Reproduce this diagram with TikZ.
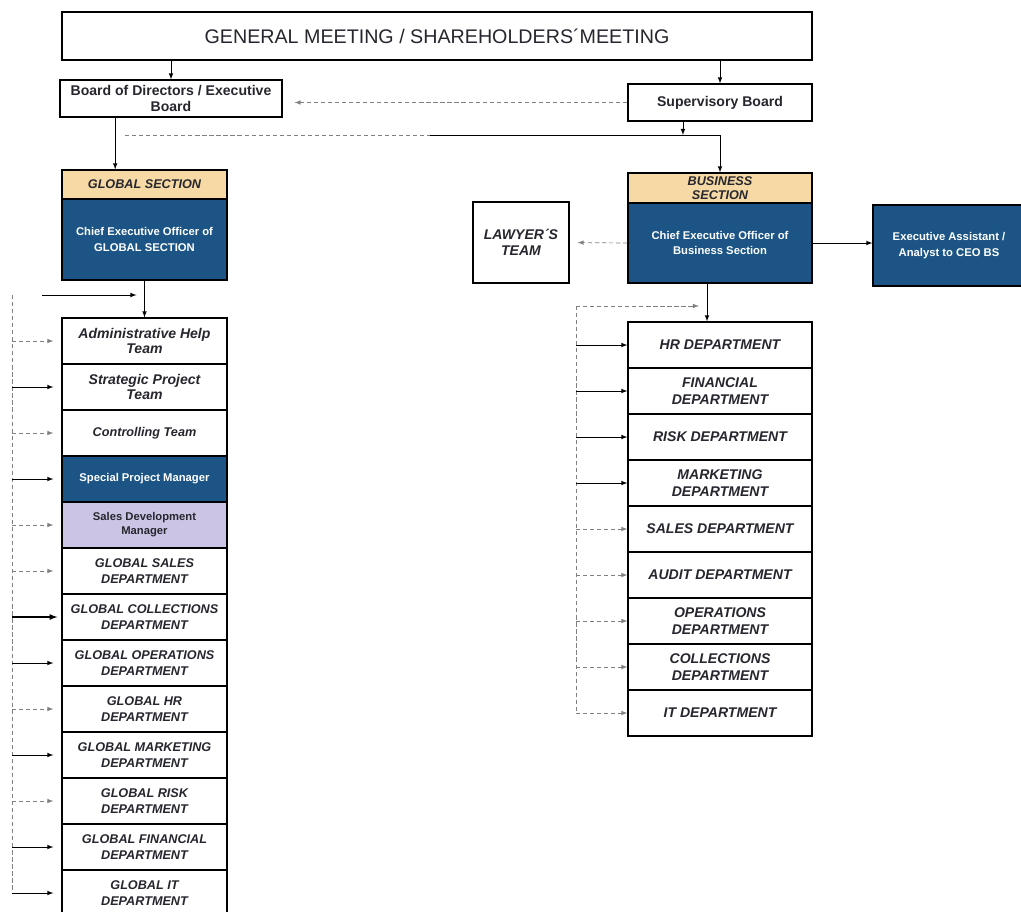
\documentclass[tikz,border=0pt]{standalone}
\usepackage{fontspec}
\setmainfont{Liberation Sans}
\usepackage{xcolor}
\usetikzlibrary{arrows,positioning,calc}

\definecolor{headtan}{HTML}{F6D9A4}
\definecolor{ceoblue}{HTML}{1C5585}
\definecolor{lavender}{HTML}{CBC4E4}
\definecolor{inkgray}{HTML}{26262E}

\begin{document}
\begin{tikzpicture}[x=0.25mm, y=-0.25mm, >=latex,
  orgbox/.style={draw, line width=0.9pt, inner sep=0pt, align=center, text=inkgray},
  hdbox/.style={orgbox, fill=headtan, font=\bfseries\itshape\fontsize{9}{9.5}\selectfont},
  ceobox/.style={orgbox, fill=ceoblue, text=white, font=\bfseries\fontsize{8}{11}\selectfont},
  gdept/.style={orgbox, minimum width=41.25mm, minimum height=11.5mm, font=\bfseries\itshape\fontsize{9}{11}\selectfont},
  bdept/.style={orgbox, minimum width=46mm, minimum height=11.5mm, font=\bfseries\itshape\fontsize{10}{11.5}\selectfont},
  feed/.style={->, line width=0.5pt},
  faint/.style={->, line width=0.5pt, gray, densely dashed}]
\fill[white] (0,0) rectangle (1021,911);
\useasboundingbox (0,0) rectangle (1021,911);

% Top
\node[orgbox, minimum width=187.5mm, minimum height=12mm, font=\fontsize{14}{16}\selectfont] (GM) at (437,36) {GENERAL MEETING / SHAREHOLDERS´MEETING};
\node[orgbox, minimum width=55.5mm, minimum height=9.25mm, font=\bfseries\fontsize{10}{11.5}\selectfont] (Board) at (171,98.5) {Board of Directors / Executive\\Board};
\node[orgbox, minimum width=46mm, minimum height=9.25mm, font=\bfseries\fontsize{10}{11.5}\selectfont] (Sup) at (720,102.5) {Supervisory Board};
\draw[feed] (GM.south -| Board.north) -- (Board.north);
\draw[feed] (GM.south -| Sup.north) -- (Sup.north);
\draw[faint, shorten >=3mm] (Sup.west) -- (Sup.west -| Board.east);

% Global section
\node[hdbox, minimum width=41.25mm, minimum height=7.25mm] (GHead) at (144.5,184.5) {GLOBAL SECTION};
\node[ceobox, minimum width=41.25mm, minimum height=20.25mm] (GCEO) at (144.5,239.5) {Chief Executive Officer of\\GLOBAL SECTION};
\coordinate (bs) at ($(Board.south west)!0.25!(Board.south east)$);
\draw[feed] (bs) -- (bs |- GHead.north);

% Business section
\node[hdbox, minimum width=46mm, minimum height=7.5mm] (BHead) at (720,188) {BUSINESS\\SECTION};
\node[ceobox, minimum width=46mm, minimum height=20mm] (BCEO) at (720,243) {Chief Executive Officer of\\Business Section};
\node[orgbox, minimum width=24mm, minimum height=20.25mm, font=\bfseries\itshape\fontsize{10}{11.5}\selectfont] (Lawyer) at (521,242.5) {LAWYER´S\\TEAM};
\node[ceobox, minimum width=38mm, minimum height=20.25mm] (Exec) at (949,245.5) {Executive Assistant /\\Analyst to CEO BS};
\draw[faint, shorten >=2mm] (BCEO.west) -- (Lawyer.east);
\draw[feed] (BCEO.east) -- (BCEO.east -| Exec.west);

% Line from the supervisory board
\coordinate (sb) at ($(Sup.south west)!0.3!(Sup.south east)$);
\coordinate (busL) at (125,135);
\coordinate (busM) at (430,135);
\coordinate (busR) at (720,135);
\draw[feed] (sb) -- (sb |- busR);
\draw[gray, line width=0.5pt, densely dashed] (busL) -- (busM);
\draw[feed] (busM) -- (busR) -- (BHead.north);

% Global teams and departments
\node[gdept, font=\bfseries\itshape\fontsize{10}{11}\selectfont] (G1) at (144.5,341) {Administrative Help\\Team};
\node[gdept, font=\bfseries\itshape\fontsize{10}{11}\selectfont] (G2) at (144.5,387) {Strategic Project\\Team};
\node[gdept] (G3) at (144.5,433) {Controlling Team};
\node[gdept, fill=ceoblue, text=white, font=\bfseries\fontsize{8}{9}\selectfont] (G4) at (144.5,479) {Special Project Manager};
\node[gdept, fill=lavender, font=\bfseries\fontsize{8}{10}\selectfont] (G5) at (144.5,525) {Sales Development\\Manager};
\node[gdept] (G6) at (144.5,571) {GLOBAL SALES\\DEPARTMENT};
\node[gdept] (G7) at (144.5,617) {GLOBAL COLLECTIONS\\DEPARTMENT};
\node[gdept] (G8) at (144.5,663) {GLOBAL OPERATIONS\\DEPARTMENT};
\node[gdept] (G9) at (144.5,709) {GLOBAL HR\\DEPARTMENT};
\node[gdept] (G10) at (144.5,755) {GLOBAL MARKETING\\DEPARTMENT};
\node[gdept] (G11) at (144.5,801) {GLOBAL RISK\\DEPARTMENT};
\node[gdept] (G12) at (144.5,847) {GLOBAL FINANCIAL\\DEPARTMENT};
\node[gdept] (G13) at (144.5,893) {GLOBAL IT\\DEPARTMENT};

\coordinate (gL) at (12,295);
\coordinate (gT) at (42,295);
\draw[feed] (GCEO.south) -- (G1.north);
\draw[feed, shorten >=2mm] (gT) -- (gT -| GCEO.south);
\draw[gray, line width=0.5pt, densely dashed] (gL) -- (gL |- G13);
\draw[faint, shorten >=2mm] (gL |- G1) -- (G1.west);
\draw[feed, shorten >=2mm] (gL |- G2) -- (G2.west);
\draw[faint, shorten >=2mm] (gL |- G3) -- (G3.west);
\draw[feed, shorten >=2mm] (gL |- G4) -- (G4.west);
\draw[faint, shorten >=2mm] (gL |- G5) -- (G5.west);
\draw[faint, shorten >=2mm] (gL |- G6) -- (G6.west);
\draw[feed, line width=0.9pt, shorten >=1mm] (gL |- G7) -- (G7.west);
\draw[feed, shorten >=2mm] (gL |- G8) -- (G8.west);
\draw[faint, shorten >=2mm] (gL |- G9) -- (G9.west);
\draw[feed, shorten >=2mm] (gL |- G10) -- (G10.west);
\draw[faint, shorten >=2mm] (gL |- G11) -- (G11.west);
\draw[feed, shorten >=2mm] (gL |- G12) -- (G12.west);
\draw[feed, shorten >=2mm] (gL |- G13) -- (G13.west);

% Business departments
\node[bdept] (B1) at (720,345) {HR DEPARTMENT};
\node[bdept] (B2) at (720,391) {FINANCIAL\\DEPARTMENT};
\node[bdept] (B3) at (720,437) {RISK DEPARTMENT};
\node[bdept] (B4) at (720,483) {MARKETING\\DEPARTMENT};
\node[bdept] (B5) at (720,529) {SALES DEPARTMENT};
\node[bdept] (B6) at (720,575) {AUDIT DEPARTMENT};
\node[bdept] (B7) at (720,621) {OPERATIONS\\DEPARTMENT};
\node[bdept] (B8) at (720,667) {COLLECTIONS\\DEPARTMENT};
\node[bdept] (B9) at (720,713) {IT DEPARTMENT};

\coordinate (bL) at (576,306);
\coordinate (bv) at ($(BCEO.south)+(-13,0)$);
\draw[feed] (bv) -- (bv |- B1.north);
\draw[faint, shorten >=2mm] (bL) -- (bL -| bv);
\draw[gray, line width=0.5pt, densely dashed] (bL) -- (bL |- B9);
\draw[feed] (bL |- B1) -- (B1.west);
\draw[feed] (bL |- B2) -- (B2.west);
\draw[feed] (bL |- B3) -- (B3.west);
\draw[feed] (bL |- B4) -- (B4.west);
\draw[faint] (bL |- B5) -- (B5.west);
\draw[faint] (bL |- B6) -- (B6.west);
\draw[faint] (bL |- B7) -- (B7.west);
\draw[faint] (bL |- B8) -- (B8.west);
\draw[faint] (bL |- B9) -- (B9.west);
\end{tikzpicture}
\end{document}
